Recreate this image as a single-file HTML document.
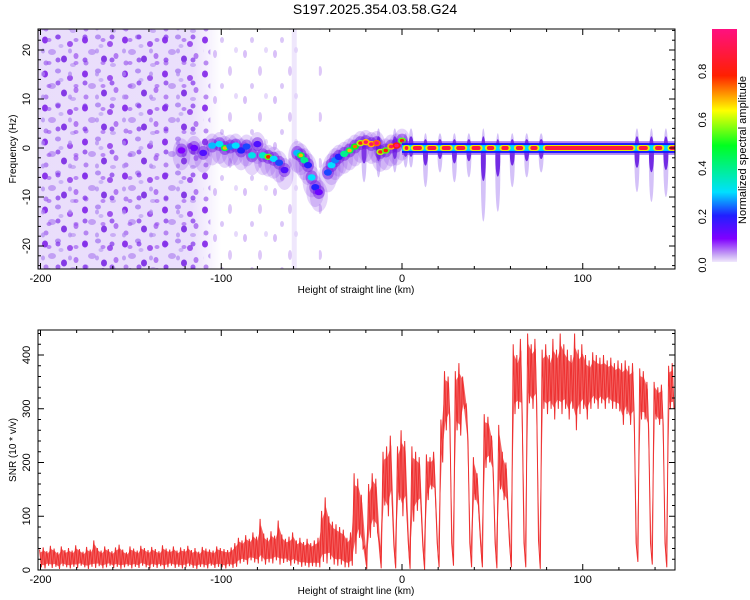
<!DOCTYPE html>
<html><head><meta charset="utf-8"><style>
body{margin:0;background:#fff}
svg{display:block;font-family:"Liberation Sans",sans-serif}
</style></head><body>
<svg id="chart" width="750" height="600" viewBox="0 0 750 600">
<defs>
<pattern id="noise" width="40" height="34" patternUnits="userSpaceOnUse">
<ellipse cx="5" cy="6" rx="3" ry="3.5" fill="#7a18e8" opacity="0.85"/>
<ellipse cx="18" cy="3" rx="3" ry="2.5" fill="#a070f0" opacity="0.7"/>
<ellipse cx="30" cy="10" rx="3" ry="3" fill="#8a30ea" opacity="0.8"/>
<ellipse cx="36" cy="22" rx="2.5" ry="3" fill="#9a50ee" opacity="0.7"/>
<ellipse cx="12" cy="18" rx="4" ry="3" fill="#b890f2" opacity="0.8"/>
<ellipse cx="24" cy="25" rx="3" ry="3.5" fill="#6a10e0" opacity="0.8"/>
<ellipse cx="6" cy="29" rx="2.5" ry="2.5" fill="#a060ee" opacity="0.7"/>
<ellipse cx="33" cy="31" rx="3" ry="2" fill="#c0a0f4" opacity="0.8"/>
<ellipse cx="21" cy="12" rx="2.5" ry="2" fill="#c8b0f6" opacity="0.9"/>
</pattern>
<pattern id="noiseB" width="27" height="23" patternUnits="userSpaceOnUse">
<ellipse cx="4" cy="14" rx="2.5" ry="2.5" fill="#8030ea" opacity="0.7"/>
<ellipse cx="16" cy="5" rx="2" ry="2.5" fill="#b088f2" opacity="0.7"/>
<ellipse cx="22" cy="17" rx="2.5" ry="2" fill="#9850ee" opacity="0.6"/>
</pattern>
<pattern id="noise2" width="30" height="46" patternUnits="userSpaceOnUse">
<ellipse cx="5" cy="8" rx="2" ry="4" fill="#d0b0f6" opacity="0.8"/>
<ellipse cx="20" cy="25" rx="2" ry="5" fill="#c8a4f4" opacity="0.6"/>
<ellipse cx="12" cy="40" rx="2" ry="3" fill="#b890f2" opacity="0.5"/>
<ellipse cx="26" cy="4" rx="2" ry="3" fill="#e0d0fa" opacity="0.8"/>
</pattern>
<linearGradient id="fadeBase" x1="0" y1="0" x2="1" y2="0">
<stop offset="0" stop-color="#e2d2fa" stop-opacity="0.75"/>
<stop offset="0.84" stop-color="#e2d2fa" stop-opacity="0.7"/>
<stop offset="1" stop-color="#e2d2fa" stop-opacity="0"/>
</linearGradient>
<linearGradient id="cbar" x1="0" y1="1" x2="0" y2="0">
<stop offset="0" stop-color="#f0e8fc"/><stop offset="0.03" stop-color="#c8a8f4"/>
<stop offset="0.1" stop-color="#8000ff"/><stop offset="0.2" stop-color="#2020ff"/>
<stop offset="0.3" stop-color="#00e0ff"/><stop offset="0.5" stop-color="#00ff20"/>
<stop offset="0.65" stop-color="#ffff00"/><stop offset="0.8" stop-color="#ff2000"/>
<stop offset="1" stop-color="#ff1080"/>
</linearGradient>
<clipPath id="clipTop"><rect x="38" y="29" width="637" height="240"/></clipPath>
<clipPath id="clipBot"><rect x="38" y="330" width="637" height="240"/></clipPath>
</defs>
<text x="375" y="14" text-anchor="middle" font-size="14">S197.2025.354.03.58.G24</text>
<g id="top" clip-path="url(#clipTop)"></g>
<g id="bot" clip-path="url(#clipBot)"></g>
<rect x="712" y="29" width="25" height="233" fill="url(#cbar)"/>
<g id="axes"></g>
<text transform="translate(746,150) rotate(-90)" text-anchor="middle" font-size="11">Normalized spectral amplitude</text>
</svg>
<script>
// ---- data ----
const xTicks = [-200, -100, 0, 100];
const freqTicks = [-20, -10, 0, 10, 20];
const snrTicks = [0, 100, 200, 300, 400];
const cbarTicks = [0.0, 0.2, 0.4, 0.6, 0.8];
// ridge: height (km), frequency (Hz), amplitude
const ridgeX = [-122,-115,-110,-105,-101,-98,-95,-92,-89,-86,-83,-80,-77,-74,-71,-68,-65,-58,-56,-54,-52,-50,-48,-46,-41,-39,-37,-35,-32,-29,-26,-23,-20,-17,-14,-12,-9,-6,-3,0];
const ridgeF = [-0.5,0,-1,0.5,0.8,0,0.3,0.5,-0.5,0.3,-1.5,0.8,-1.5,-1.8,-2.2,-3,-4.5,-1,-1.5,-2.5,-3.5,-6,-8,-9,-5,-3.5,-2.5,-1.8,-1.2,-0.5,0.3,1,1.2,0.8,1,-0.8,-0.5,0.3,0.5,1.5];
const ridgeA = [0.1,0.12,0.15,0.28,0.3,0.45,0.25,0.3,0.2,0.22,0.32,0.15,0.35,0.55,0.3,0.22,0.15,0.28,0.45,0.4,0.2,0.3,0.2,0.12,0.22,0.3,0.25,0.2,0.4,0.45,0.5,0.6,0.7,0.7,0.75,0.6,0.55,0.7,0.8,0.55];
// band pills along 0 Hz (start, end km)
const pillStart = [1.5,6,14,22,30,38.5,47,55,63,71,79,131,140,148];
const pillEnd   = [3.5,11,19,27,35,43.5,51,59,67,75,128,136,144,152];
// vertical spectral spreading at track breaks: height, upper Hz, lower Hz
const spikeX  = [-21,-13,-4,2,5,13,21,29,37,45,53,61,69,77,130,138,146];
const spikeUp = [3,4,4,3,4,3,3,3,3,4,3,3,3,3,4,4,4];
const spikeDn = [-7,-6,-5,-4,-4,-8,-5,-7,-6,-15,-13,-8,-6,-5,-9,-11,-10];
// SNR: bins from -200 km, step 2 km; high and low excursion per bin
const snrStart = -200, snrStep = 2;
const snrHi = [38,42,35,45,40,33,44,37,41,36,46,39,34,43,38,55,41,36,44,39,35,42,47,38,33,44,40,36,45,41,37,43,39,35,46,40,38,44,36,42,39,45,37,41,34,43,40,38,36,44,41,39,37,42,50,
60,55,65,58,70,62,95,68,60,72,64,92,66,58,62,70,55,60,52,58,50,55,60,
110,135,100,90,85,80,75,60,70,180,
170,140,45,160,180,170,50,220,230,250,45,230,260,240,50,230,220,210,45,215,210,220,50,280,370,360,50,370,385,360,310,50,210,180,50,290,285,250,50,270,220,200,50,420,400,430,50,440,420,430,55,410,420,400,430,410,440,420,410,400,440,410,420,400,390,405,400,395,400,390,395,385,390,385,390,380,385,50,375,370,350,50,350,340,345,50,380,385];
const snrLo = [5,3,8,4,6,2,7,5,3,6,4,8,5,2,6,4,7,3,5,8,4,6,2,5,7,3,6,4,8,5,3,6,4,7,2,5,8,4,6,3,5,7,4,2,6,5,3,8,4,6,5,3,7,4,6,
12,15,10,18,14,12,16,10,14,12,18,10,13,15,8,12,10,6,8,5,7,6,5,
15,12,20,10,8,10,5,5,8,30,
60,40,2,60,80,70,3,120,100,130,3,130,100,120,2,90,110,120,1,130,150,140,5,200,260,280,8,260,250,300,240,5,130,110,5,190,200,180,3,150,130,120,5,290,300,290,5,310,300,310,2,300,290,300,280,300,290,300,280,300,260,290,300,280,300,310,300,310,300,310,300,300,295,270,290,270,280,15,280,280,260,10,280,270,270,5,300,300];

// ---- scales ----
const X = km => 402 + (km) * 1.8075;
const YF = f => 148 - f * 4.9;
const YS = v => 570 - v * 0.5375;
const NS = "http://www.w3.org/2000/svg";
function mk(tag, attrs, parent) {
  const e = document.createElementNS(NS, tag);
  for (const k in attrs) e.setAttribute(k, attrs[k]);
  parent.appendChild(e); return e;
}
const stops = [[0,[232,216,248]],[0.1,[128,0,255]],[0.2,[32,32,255]],[0.3,[0,224,255]],[0.5,[0,255,32]],[0.65,[255,255,0]],[0.8,[255,32,0]],[1,[255,16,128]]];
function cmap(a){
  for (let i=1;i<stops.length;i++){ if (a<=stops[i][0]){ const [a0,c0]=stops[i-1],[a1,c1]=stops[i]; const t=(a-a0)/(a1-a0);
    return 'rgb('+c0.map((c,j)=>Math.round(c+(c1[j]-c)*t)).join(',')+')'; } }
  return 'rgb(255,16,128)';
}
const gTop = document.getElementById('top');
// background noise textures
let r = mk('rect',{x:X(-202),y:29,width:X(-100)-X(-202),height:240,fill:'url(#fadeBase)'},gTop);


r = mk('rect',{x:X(-202),y:29,width:X(-106)-X(-202),height:240,fill:'url(#noise)'},gTop);


r = mk('rect',{x:X(-202),y:29,width:X(-110)-X(-202),height:240,fill:'url(#noiseB)'},gTop);


r = mk('rect',{x:X(-106),y:29,width:X(-57)-X(-106),height:240,fill:'url(#noise2)'},gTop);


r = mk('rect',{x:X(-61),y:29,width:5,height:240,fill:'#e0d0fa',opacity:0.5},gTop);


r = mk('rect',{x:X(-46),y:29,width:5,height:240,fill:'url(#noise2)'},gTop);


// spikes
spikeX.forEach((s,i)=>{
  const e = mk('ellipse',{cx:X(s),cy:(YF(spikeUp[i])+YF(spikeDn[i]))/2,rx:2.5,ry:(YF(spikeDn[i])-YF(spikeUp[i]))/2,fill:'#b898f4',opacity:0.6},gTop);
  
  
  const e2 = mk('ellipse',{cx:X(s),cy:(YF(spikeUp[i]*0.6)+YF(spikeDn[i]*0.45))/2,rx:2.5,ry:(YF(spikeDn[i]*0.45)-YF(spikeUp[i]*0.6))/2,fill:'#6010e0',opacity:0.85},gTop);
  
  
});
// ridge clouds, halos, cores
ridgeX.forEach((x,i)=>{
  const e = mk('ellipse',{cx:X(x),cy:YF(ridgeF[i]-0.8),rx:9,ry:16,fill:'#8a40ea',opacity:0.22},gTop);
  
  
});
ridgeX.forEach((x,i)=>{
  const e = mk('ellipse',{cx:X(x),cy:YF(ridgeF[i]),rx:6,ry:7,fill:'#6a10e0',opacity:0.45},gTop);
  
  
});
ridgeX.forEach((x,i)=>{
  const a = ridgeA[i];
  const e = mk('ellipse',{cx:X(x),cy:YF(ridgeF[i]),rx:4,ry:3.2,fill:cmap(a)},gTop);
  
  
  if (a>0.4){ const c = mk('ellipse',{cx:X(x),cy:YF(ridgeF[i]),rx:2.2,ry:1.8,fill:cmap(Math.min(1,a+0.25))},gTop);
    
     }
});
// 0 Hz band
[[1.4,'#7a30e8',0.6],[1.0,'#1818ff',1],[0.6,'#00d8ff',1]].forEach(([h,c,o])=>{
  const e = mk('rect',{x:X(0),y:YF(h),width:X(152)-X(0),height:YF(-h)-YF(h),fill:c,opacity:o},gTop);
  
  
});
pillStart.forEach((s,i)=>{
  const e = mk('rect',{x:X(s)-2,y:YF(0.6),width:X(pillEnd[i])-X(s)+4,height:YF(-0.6)-YF(0.6),rx:3,fill:'#e8f000'},gTop);
  
  
  const e2 = mk('rect',{x:X(s),y:YF(0.4),width:X(pillEnd[i])-X(s),height:YF(-0.4)-YF(0.4),rx:2,fill:'#ff1a3a'},gTop);
  
  
});
// SNR envelope + line
const bot = document.getElementById('bot');
const n = Math.min(snrHi.length, snrLo.length);
let upper = [], lower = [], pts = [];
for (let i=0;i<n;i++){
  const x = snrStart + i*snrStep;
  upper.push(X(x).toFixed(1)+','+YS(snrHi[i]*0.85+snrLo[i]*0.15).toFixed(1));
  lower.unshift(X(x).toFixed(1)+','+YS(snrLo[i]*0.85+snrHi[i]*0.15).toFixed(1));
  pts.push(X(x-0.5).toFixed(1)+','+YS(snrHi[i]).toFixed(1));
  pts.push(X(x+0.5).toFixed(1)+','+YS(snrLo[i]).toFixed(1));
}
const env = mk('polygon',{points:upper.concat(lower).join(' '),fill:'#ee3030',opacity:0.75},bot);


const pl = mk('polyline',{points:pts.join(' '),fill:'none',stroke:'#ee3030','stroke-width':1},bot);


// axes
const ax = document.getElementById('axes');
function frame(y0,h,yTicks,Yf,minorStep,yMin,yMax,ytitle,name){
  const b = mk('rect',{x:38,y:y0,width:637,height:h,fill:'none',stroke:'#000','stroke-width':1},ax);
  
  
  for (let k=-200;k<=150;k+=20){
    const major = k%100===0, L = major?6:3, xx=X(k);
    mk('line',{x1:xx,x2:xx,y1:y0+h,y2:y0+h-L,stroke:'#000'},ax);
    mk('line',{x1:xx,x2:xx,y1:y0,y2:y0+L,stroke:'#000'},ax);
  }
  xTicks.forEach(k=>{
    const t = mk('text',{x:X(k),y:y0+h+13,'text-anchor':'middle','font-size':11},ax);
    t.textContent = k;
    
    
  });
  for (let v=yMin; v<=yMax; v+=minorStep){
    const major = yTicks.includes(v), L=major?6:3, yy=Yf(v);
    mk('line',{x1:38,x2:38+L,y1:yy,y2:yy,stroke:'#000'},ax);
    mk('line',{x1:675,x2:675-L,y1:yy,y2:yy,stroke:'#000'},ax);
  }
  yTicks.forEach(v=>{
    const t = mk('text',{transform:'translate(30,'+Yf(v)+') rotate(-90)','text-anchor':'middle','font-size':11},ax);
    t.textContent = v;
    
    
  });
  const xt = mk('text',{x:356,y:y0+h+24,'text-anchor':'middle','font-size':10},ax);
  xt.textContent = 'Height of straight line (km)';
  
  
  const yt = mk('text',{transform:'translate(16,'+(y0+h/2)+') rotate(-90)','text-anchor':'middle','font-size':10},ax);
  yt.textContent = ytitle;
  
  
}
frame(29,240,freqTicks,YF,2,-24,24,'Frequency (Hz)','spectrogram');
frame(330,240,snrTicks,YS,20,0,440,'SNR (10 * v/v)','snr');
// colorbar ticks
const YC = v => 265 - v * 242;
cbarTicks.forEach(v=>{
  const t = mk('text',{transform:'translate(706,'+YC(v)+') rotate(-90)','text-anchor':'middle','font-size':11},ax);
  t.textContent = v.toFixed(1);
  
  
});
</script>
</body></html>
